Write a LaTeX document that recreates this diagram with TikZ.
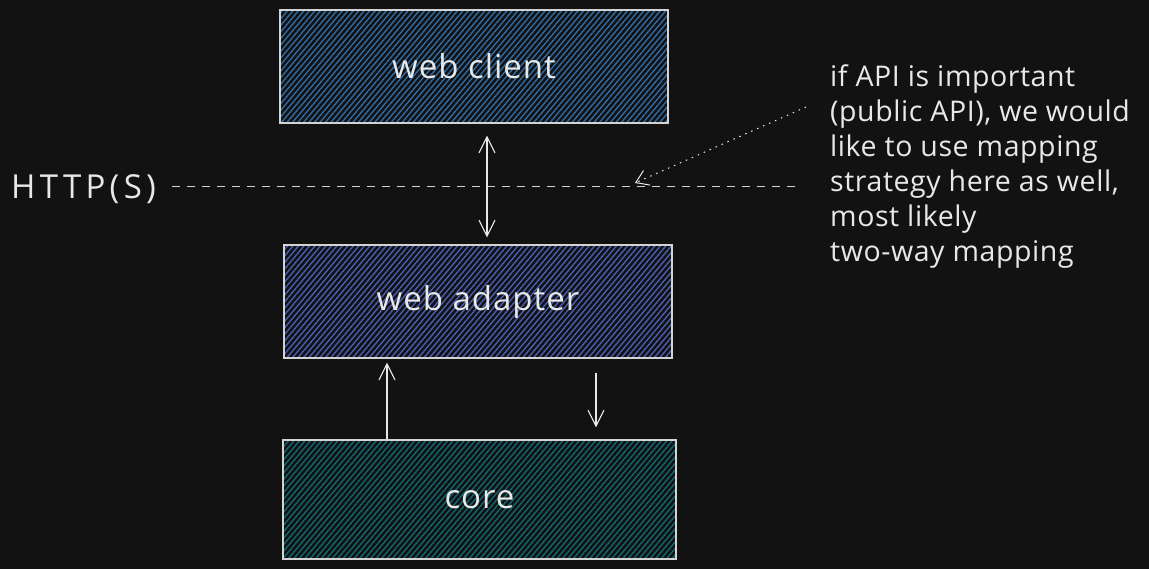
\documentclass[tikz,border=0pt]{standalone}
\usepackage{fontspec}
\setmainfont{Open Sans}
\usetikzlibrary{patterns.meta,arrows.meta,calc}
\definecolor{bg}{HTML}{121212}
\definecolor{ink}{HTML}{E8E8E8}
\definecolor{hwc}{HTML}{2F6CA6}
\definecolor{hwa}{HTML}{4A5FB4}
\definecolor{hco}{HTML}{0F6874}
\begin{document}
\begin{tikzpicture}[x=1pt,y=-1pt,
  box/.style={draw=ink!90!bg, line width=1.2pt, minimum width=388pt, minimum height=113pt,
    text=ink, font=\fontsize{33}{40}\selectfont\addfontfeature{LetterSpace=3}, inner sep=0pt},
  hatch/.style={pattern={Lines[angle=50,distance=4.2pt,line width=1.4pt]}, pattern color=#1},
  arr/.style={draw=ink, line width=1.1pt, -{Straight Barb[length=16pt,width=16pt]}},
  darr/.style={draw=ink, line width=1.1pt, {Straight Barb[length=16pt,width=16pt]}-{Straight Barb[length=16pt,width=16pt]}},
  lbl/.style={text=ink, inner sep=0pt},
]
\fill[bg] (0,0) rectangle (1149,569);
\useasboundingbox (0,0) rectangle (1149,569);

\node[box, hatch=hwc] (wc) at (474,66.5) {web client};
\node[box, hatch=hwa] (wa) at (478,301.5) {web adapter};
\node[box, hatch=hco, minimum width=393pt, minimum height=119pt] (core) at (479.5,499.5) {core};

\coordinate (xa) at (487,0);
\coordinate (xb) at (387,0);
\coordinate (xc) at (596,0);

\draw[darr, shorten <=12pt, shorten >=7pt] (wc.south -| xa) -- (wa.north -| xa);
\draw[arr, shorten >=4pt] (core.north -| xb) -- (wa.south -| xb);
\draw[arr, shorten <=14pt, shorten >=12pt] (wa.south -| xc) -- (core.north -| xc);

\node[lbl, font=\fontsize{33}{40}\selectfont\addfontfeature{LetterSpace=13}, anchor=west] (http) at (11,189) {HTTP(S)};
\coordinate (dashend) at (800,187);
\draw[draw=ink!90!bg, line width=1pt, dash pattern=on 8pt off 7pt] ([xshift=16pt]http.east |- dashend) -- (dashend);

\node[lbl, font=\fontsize{28.5}{35}\selectfont\addfontfeature{LetterSpace=2}, align=left, anchor=north west] (note) at (830,64)
 {if API is important\\(public API), we would\\like to use mapping\\strategy here as well,\\most likely\\two-way mapping};
\coordinate (dotS) at (806,107);
\coordinate (dotE) at (635,183);
\draw[draw=ink, line width=1pt, dash pattern=on 1.5pt off 5pt, -{Straight Barb[length=12pt,width=16pt]}] (dotS) -- (dotE);
\end{tikzpicture}
\end{document}
